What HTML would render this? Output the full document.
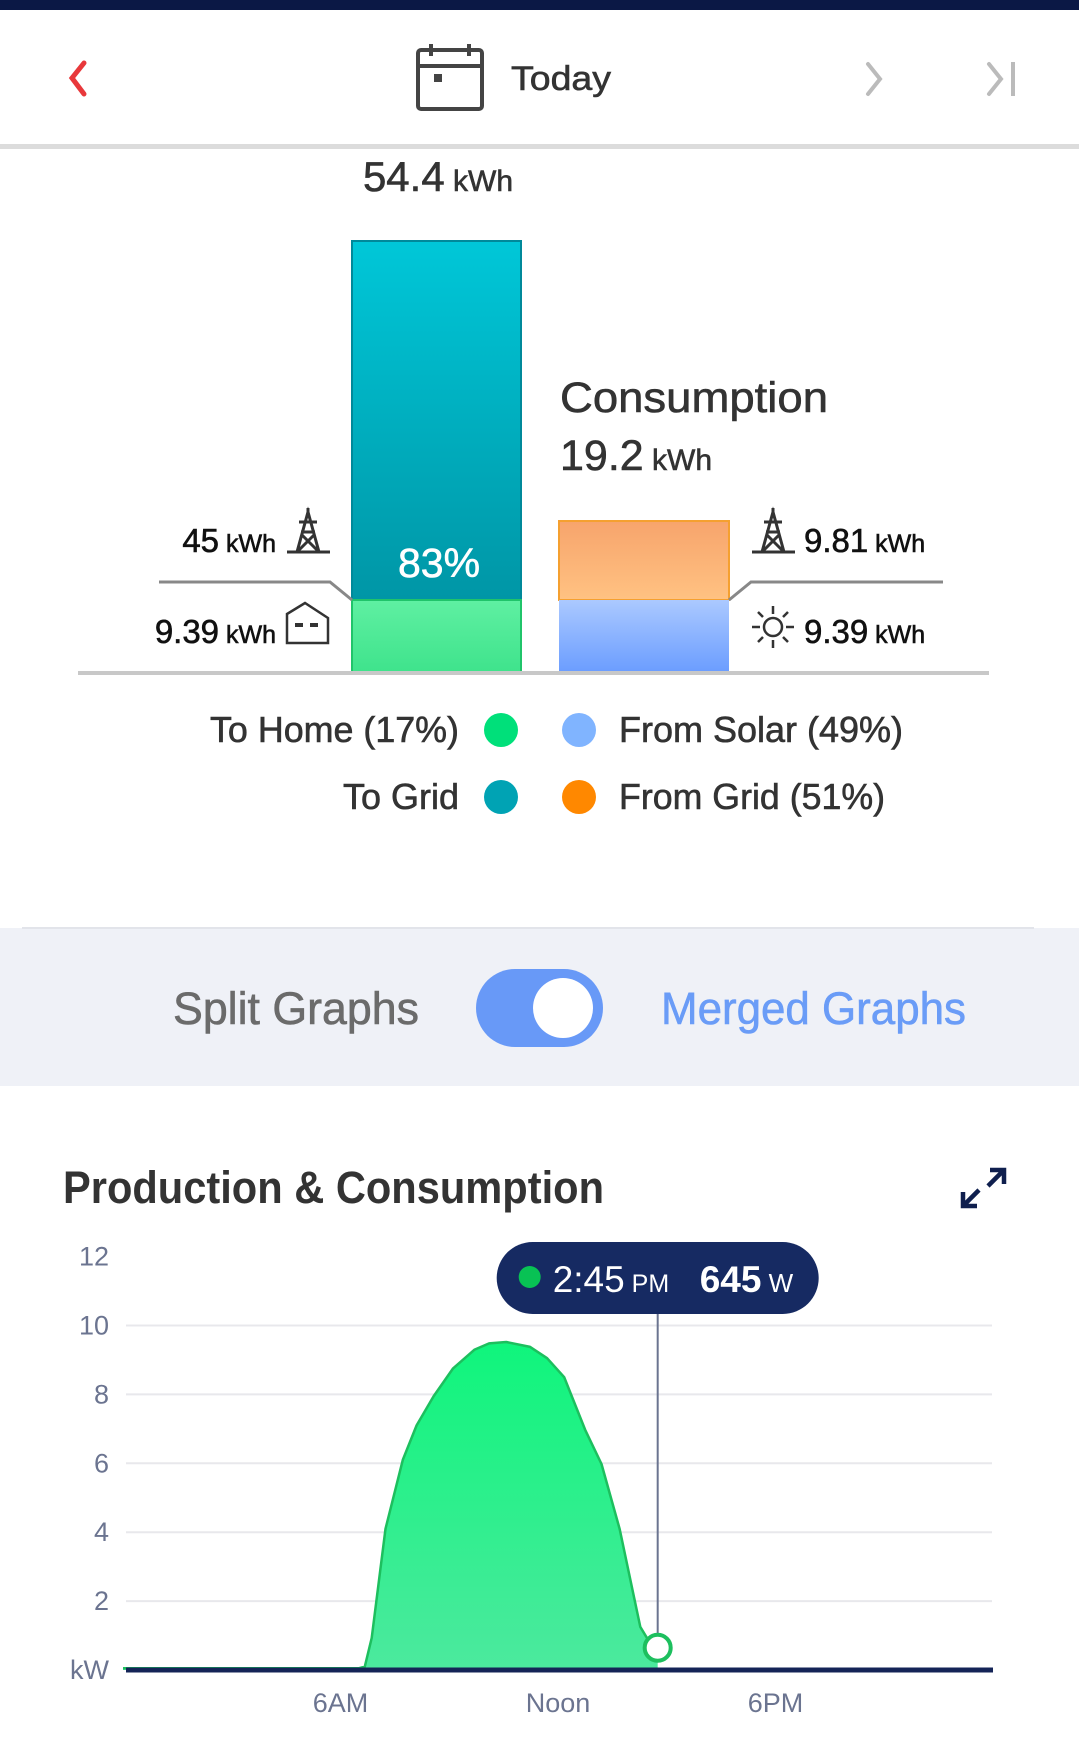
<!DOCTYPE html>
<html><head><meta charset="utf-8"><style>
html,body{margin:0;padding:0;background:#fff;}
svg{display:block;font-family:"Liberation Sans",sans-serif;}
.med{stroke:currentColor;stroke-width:0.6;}
</style></head><body>
<svg id="page" width="1079" height="1743" viewBox="0 0 1079 1743">
<defs>
<linearGradient id="gTeal" x1="0" y1="0" x2="0" y2="1"><stop offset="0" stop-color="#00c7d8"/><stop offset="1" stop-color="#0096a6"/></linearGradient>
<linearGradient id="gGreen" x1="0" y1="0" x2="0" y2="1"><stop offset="0" stop-color="#5ff0a2"/><stop offset="1" stop-color="#3fe38c"/></linearGradient>
<linearGradient id="gOrange" x1="0" y1="0" x2="0" y2="1"><stop offset="0" stop-color="#f7a46c"/><stop offset="1" stop-color="#ffc282"/></linearGradient>
<linearGradient id="gBlue" x1="0" y1="0" x2="0" y2="1"><stop offset="0" stop-color="#abc9ff"/><stop offset="1" stop-color="#6b9dff"/></linearGradient>
<linearGradient id="gArea" x1="0" y1="0" x2="0" y2="1"><stop offset="0" stop-color="#0ff57c"/><stop offset="1" stop-color="#4ce99e"/></linearGradient>
</defs>
<rect x="0" y="0" width="1079" height="10" fill="#0b1845"/>
<g>
<path d="M84 63 L72 78 L84 94" fill="none" stroke="#e8383b" stroke-width="5" stroke-linecap="round"/>
<g fill="none" stroke="#444" stroke-width="4">
<rect x="418" y="50" width="64" height="59" rx="3"/><line x1="418" y1="66" x2="482" y2="66"/><line x1="431" y1="44" x2="431" y2="56"/><line x1="469" y1="44" x2="469" y2="56"/>
<rect x="434" y="74" width="8" height="8" fill="#444" stroke="none"/>
</g>
<text x="511" y="90" font-size="34" fill="#333" color="#333" class="med" textLength="100" lengthAdjust="spacingAndGlyphs">Today</text>
<path d="M868 64 L880 79 L868 94" fill="none" stroke="#bbb" stroke-width="4" stroke-linecap="round"/>
<g><path d="M989 64 L1001 79 L989 94" fill="none" stroke="#bbb" stroke-width="4" stroke-linecap="round"/><line x1="1013" y1="62" x2="1013" y2="96" stroke="#bbb" stroke-width="4"/></g>
</g>
<rect x="0" y="144" width="1079" height="5" fill="#dcdcdc"/>
<text x="438" y="191" text-anchor="middle" fill="#333" color="#333" class="med"><tspan font-size="42">54.4</tspan><tspan font-size="30"> kWh</tspan></text>
<rect x="352" y="241" width="169" height="359" fill="url(#gTeal)" stroke="#00899a" stroke-width="2"/>
<rect x="352" y="600" width="169" height="72" fill="url(#gGreen)" stroke="#20c46a" stroke-width="2"/>
<text x="439" y="577" text-anchor="middle" font-size="41" fill="#fff" color="#fff" class="med">83%</text>
<text x="560" y="412" font-size="43" fill="#333" color="#333" class="med" textLength="268" lengthAdjust="spacingAndGlyphs">Consumption</text>
<text x="560" y="470" fill="#333" color="#333" class="med"><tspan font-size="43">19.2</tspan><tspan font-size="30"> kWh</tspan></text>
<rect x="559" y="521" width="170" height="79" fill="url(#gOrange)" stroke="#f5a030" stroke-width="2"/>
<rect x="559" y="600" width="170" height="72" fill="url(#gBlue)"/>
<line x1="78" y1="673" x2="989" y2="673" stroke="#c8c8c8" stroke-width="4"/>
<polyline points="159,582 330,582 352,600" fill="none" stroke="#888" stroke-width="3"/>
<polyline points="729,600 751,582 943,582" fill="none" stroke="#888" stroke-width="3"/>
<text x="276" y="552" text-anchor="end" fill="#111" color="#111" class="med"><tspan font-size="33">45</tspan><tspan font-size="25"> kWh</tspan></text>
<text x="276" y="643" text-anchor="end" fill="#111" color="#111" class="med"><tspan font-size="33">9.39</tspan><tspan font-size="25"> kWh</tspan></text>
<text x="804" y="552" fill="#111" color="#111" class="med"><tspan font-size="33">9.81</tspan><tspan font-size="25"> kWh</tspan></text>
<text x="804" y="643" fill="#111" color="#111" class="med"><tspan font-size="33">9.39</tspan><tspan font-size="25"> kWh</tspan></text>
<g fill="none" stroke="#333" stroke-width="3">
<path d="M287 552 L330 552 M297 552 L308 512 L319 552 M299 522 L317 522 M301 532 L315 532 M302 535 L319 552 M314 535 L297 552 M308 508 L308 514"/></g>
<g fill="none" stroke="#333" stroke-width="3">
<path d="M752 552 L795 552 M762 552 L773 512 L784 552 M764 522 L782 522 M766 532 L780 532 M767 535 L784 552 M779 535 L762 552 M773 508 L773 514"/></g>
<g fill="none" stroke="#333" stroke-width="2.5">
<path d="M287 643 L287 614 L305 603 L328 618 L328 643 Z"/><rect x="295" y="623" width="8" height="4" fill="#333" stroke="none"/><rect x="310" y="623" width="8" height="4" fill="#333" stroke="none"/></g>
<g fill="none" stroke="#333" stroke-width="2.5">
<circle cx="773" cy="627" r="9"/><path d="M773 606v8M773 640v8M752 627h8M786 627h8M758 612l5 5M783 637l5 5M788 612l-5 5M763 637l-5 5"/></g>
<g>
<text x="459" y="742" text-anchor="end" font-size="36" fill="#333" color="#333" class="med" textLength="249" lengthAdjust="spacingAndGlyphs">To Home (17%)</text>
<circle cx="501" cy="730" r="17" fill="#00e07a"/>
<circle cx="579" cy="730" r="17" fill="#80b4ff"/>
<text x="619" y="742" font-size="36" fill="#333" color="#333" class="med" textLength="284" lengthAdjust="spacingAndGlyphs">From Solar (49%)</text>
<text x="459" y="809" text-anchor="end" font-size="36" fill="#333" color="#333" class="med" textLength="116" lengthAdjust="spacingAndGlyphs">To Grid</text>
<circle cx="501" cy="797" r="17" fill="#00a3b4"/>
<circle cx="579" cy="797" r="17" fill="#ff8800"/>
<text x="619" y="809" font-size="36" fill="#333" color="#333" class="med" textLength="266" lengthAdjust="spacingAndGlyphs">From Grid (51%)</text>
</g>
<rect x="0" y="928" width="1079" height="158" fill="#eff1f7"/>
<line x1="22" y1="928" x2="1034" y2="928" stroke="#e2e4ea" stroke-width="2"/>
<text x="419" y="1024" text-anchor="end" font-size="45" fill="#6b6b6b" color="#6b6b6b" class="med" textLength="246" lengthAdjust="spacingAndGlyphs">Split Graphs</text>
<rect x="476" y="969" width="127" height="78" rx="39" fill="#6899f7"/>
<circle cx="563" cy="1008" r="30" fill="#fff"/>
<text x="661" y="1024" font-size="45" fill="#6a9cf7" color="#6a9cf7" class="med" textLength="305" lengthAdjust="spacingAndGlyphs">Merged Graphs</text>
<text x="63" y="1203" font-size="45" font-weight="bold" fill="#333" textLength="541" lengthAdjust="spacingAndGlyphs">Production &amp; Consumption</text>
<g fill="none" stroke="#0f1f4e" stroke-width="4.5">
<path d="M990 1170 L1004 1170 L1004 1184 M1004 1170 L988 1186 M977 1206 L963 1206 L963 1192 M963 1206 L979 1190"/></g>
<g id="chart"></g>
</svg>
<script>
const hours = [0, 3, 6, 6.5, 6.67, 6.86, 7.24, 7.72, 8.1, 8.57, 9.1, 9.7, 10.1, 10.57, 11.23, 11.7, 12.17, 12.75, 13.2, 13.7, 14.27, 14.5, 14.75];
const kw =    [0.05, 0.05, 0.05, 0.05, 0.1, 0.93, 4.1, 6.1, 7.1, 7.95, 8.75, 9.3, 9.48, 9.52, 9.38, 9.05, 8.5, 6.97, 5.98, 4.1, 1.25, 0.85, 0.645];
const yTicks = [2, 4, 6, 8, 10, 12];
const yTickLabels = ["2", "4", "6", "8", "10", "12"];
const xTickHours = [6, 12, 18];
const xTickLabels = ["6AM", "Noon", "6PM"];
const cursorHour = 14.75;
const cursorTimeLabel = "2:45";
const cursorValueLabel = "645";

const NS = "http://www.w3.org/2000/svg";
const X0 = 123, XW = 870, Y0 = 1670, YPER = 34.45;
function xs(h){ return X0 + h / 24 * XW; }
function ys(v){ return Y0 - v * YPER; }
const chart = document.getElementById("chart");
function mk(tag, attrs){ const e = document.createElementNS(NS, tag); for (const k in attrs) e.setAttribute(k, attrs[k]); chart.appendChild(e); return e; }

yTicks.forEach((t, i) => {
  if (t < 12) {
    const g = mk("line", {x1: 126, x2: 992, y1: ys(t), y2: ys(t), stroke: "#e8e8ec", "stroke-width": 2});
    
    
  }
  const l = mk("text", {x: 109, y: ys(t) + 9, "text-anchor": "end", "font-size": 27, fill: "#6b7490"});
  l.textContent = yTickLabels[i];
  
  
});
const kwl = mk("text", {x: 109, y: Y0 + 9, "text-anchor": "end", "font-size": 27, fill: "#6b7490"});
kwl.textContent = "kW";



xTickHours.forEach((h, i) => {
  const l = mk("text", {x: xs(h), y: 1712, "text-anchor": "middle", "font-size": 27, fill: "#6b7490"});
  l.textContent = xTickLabels[i];
  
  
});

let d = "M" + xs(hours[0]) + " " + ys(kw[0]);
for (let i = 1; i < hours.length; i++) d += " L" + xs(hours[i]).toFixed(1) + " " + ys(kw[i]).toFixed(1);
const area = mk("path", {d: d + " L" + xs(hours[hours.length-1]) + " " + Y0 + " L" + xs(hours[0]) + " " + Y0 + " Z", fill: "url(#gArea)"});


const line = mk("path", {d: d, fill: "none", stroke: "#1dbf5e", "stroke-width": 2.5, "stroke-linejoin": "round"});



const base = mk("line", {x1: 126, x2: 993, y1: Y0, y2: Y0, stroke: "#142457", "stroke-width": 5});



const cx = xs(cursorHour);
const cv = kw[hours.indexOf(cursorHour)];
const vl = mk("line", {x1: cx, x2: cx, y1: 1300, y2: ys(cv), stroke: "#6b7490", "stroke-width": 2});


const pt = mk("circle", {cx: cx, cy: ys(cv), r: 13, fill: "#fff", stroke: "#1dbf5e", "stroke-width": 4});



const tip = mk("rect", {x: cx - 161, y: 1242, width: 322, height: 72, rx: 36, fill: "#162a62"});


const tdot = mk("circle", {cx: cx - 128, cy: 1277, r: 11, fill: "#08c254"});


const tt = mk("text", {x: cx - 105, y: 1292, fill: "#fff"});
tt.innerHTML = '<tspan font-size="37">' + cursorTimeLabel + '</tspan><tspan font-size="25"> PM</tspan>';


const tv = mk("text", {x: cx + 42, y: 1292, fill: "#fff", "font-weight": "bold"});
tv.innerHTML = '<tspan font-size="37">' + cursorValueLabel + '</tspan><tspan font-size="26" font-weight="normal"> W</tspan>';


</script>
</body></html>
